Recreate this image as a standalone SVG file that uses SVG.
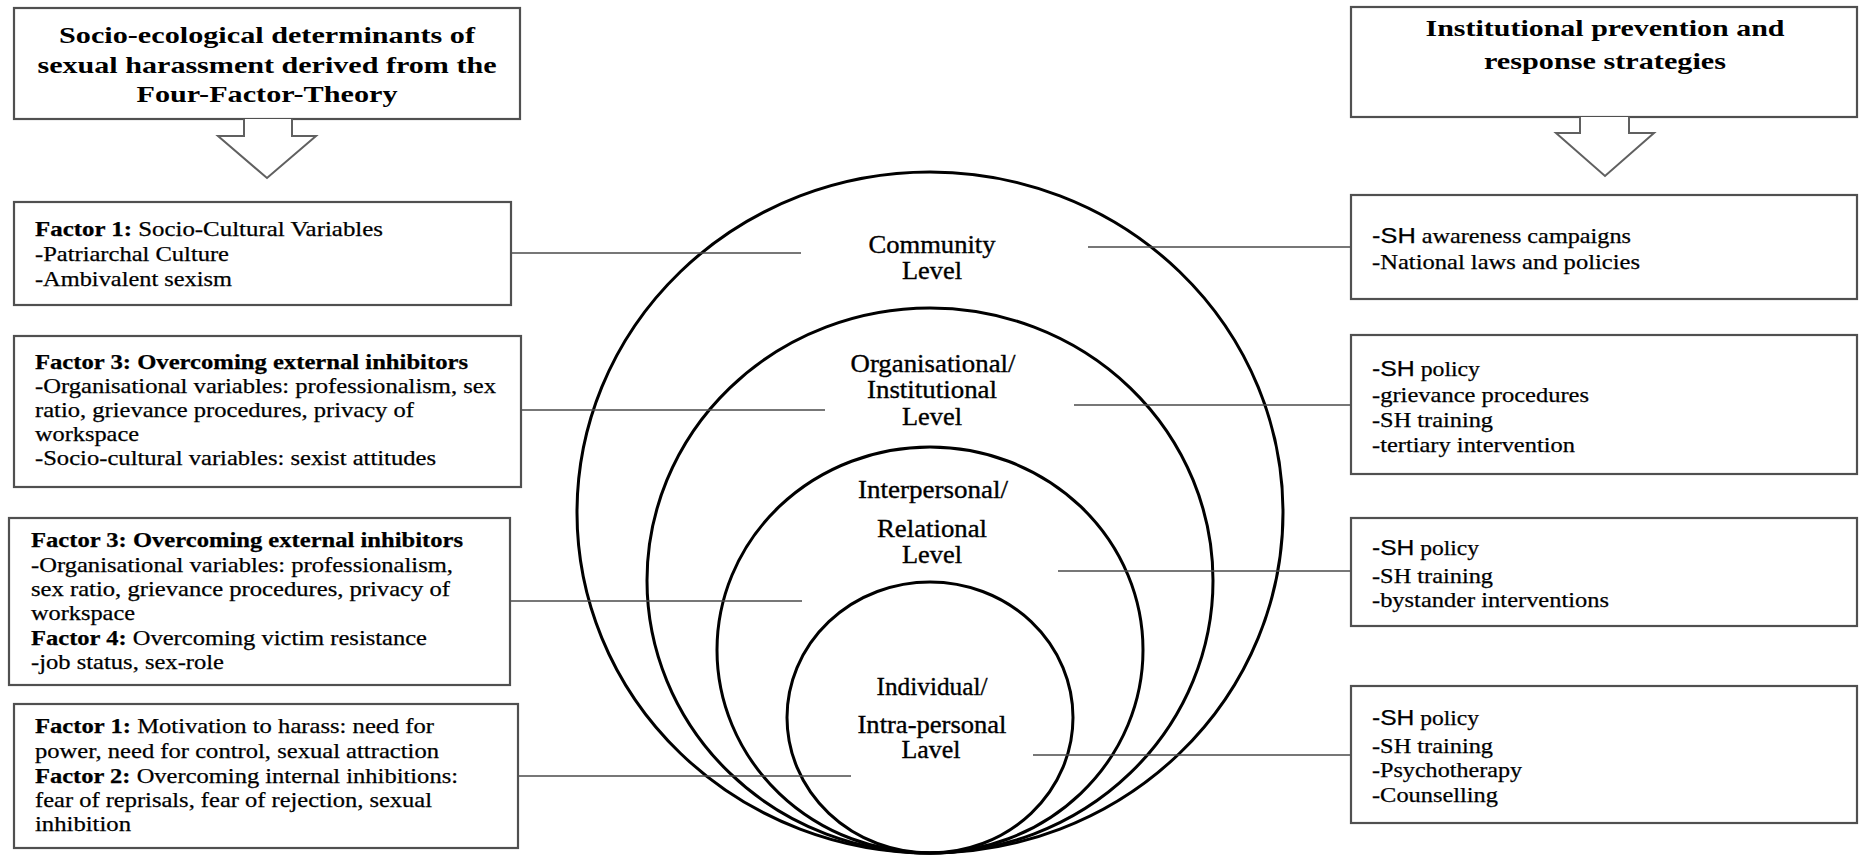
<svg xmlns="http://www.w3.org/2000/svg" width="1867" height="856" viewBox="0 0 1867 856">
  <defs>
    <style>
      .box { fill: #fff; stroke: #505050; stroke-width: 2.2; }
      .arrow { fill: #fff; stroke: #606060; stroke-width: 2; stroke-linejoin: miter; }
      .ring { fill: none; stroke: #000; stroke-width: 3; }
      .link { stroke: #4a4a4a; stroke-width: 1.6; fill: none; }
      .serif { font-family: "Liberation Serif", "Times New Roman", serif; fill: #000; }
      .head { font-size: 24px; font-weight: bold; text-anchor: middle; }
      .body { font-size: 21px; stroke: #000; stroke-width: 0.25; }
      .lvl { font-size: 25px; text-anchor: middle; stroke: #000; stroke-width: 0.35; }
      .b { font-weight: bold; }
      .sans { font-family: "Liberation Sans", Arial, sans-serif; font-size: 22px; }
    </style>
  </defs>

  <rect width="1867" height="856" fill="#fff"/>

  <!-- nested levels of the socio-ecological model -->
  <g id="levels">
    <ellipse class="ring" cx="930" cy="512.5" rx="353" ry="340.5"/>
    <ellipse class="ring" cx="930" cy="580.5" rx="283" ry="272.5"/>
    <ellipse class="ring" cx="930" cy="650" rx="213" ry="203"/>
    <ellipse class="ring" cx="930" cy="717.5" rx="143" ry="135.5"/>
  </g>

  <!-- connectors between boxes and levels -->
  <g id="connectors">
    <line class="link" x1="511" y1="253" x2="801" y2="253"/>
    <line class="link" x1="521" y1="410" x2="825" y2="410"/>
    <line class="link" x1="510" y1="601" x2="802" y2="601"/>
    <line class="link" x1="518" y1="776" x2="851" y2="776"/>
    <line class="link" x1="1088" y1="247" x2="1351" y2="247"/>
    <line class="link" x1="1074" y1="405" x2="1351" y2="405"/>
    <line class="link" x1="1058" y1="571" x2="1351" y2="571"/>
    <line class="link" x1="1033" y1="755" x2="1351" y2="755"/>
  </g>

  <g id="level-community" class="serif lvl">
    <text x="932" y="253" textLength="127" lengthAdjust="spacingAndGlyphs">Community</text>
    <text x="932" y="279" textLength="60" lengthAdjust="spacingAndGlyphs">Level</text>
  </g>
  <g id="level-organisational" class="serif lvl">
    <text x="933" y="372" textLength="165" lengthAdjust="spacingAndGlyphs">Organisational/</text>
    <text x="932" y="398" textLength="130" lengthAdjust="spacingAndGlyphs">Institutional</text>
    <text x="932" y="425" textLength="60" lengthAdjust="spacingAndGlyphs">Level</text>
  </g>
  <g id="level-interpersonal" class="serif lvl">
    <text x="933" y="498" textLength="150" lengthAdjust="spacingAndGlyphs">Interpersonal/</text>
    <text x="932" y="537" textLength="110" lengthAdjust="spacingAndGlyphs">Relational</text>
    <text x="932" y="563" textLength="60" lengthAdjust="spacingAndGlyphs">Level</text>
  </g>
  <g id="level-individual" class="serif lvl">
    <text x="932" y="695" textLength="111" lengthAdjust="spacingAndGlyphs">Individual/</text>
    <text x="932" y="733" textLength="149" lengthAdjust="spacingAndGlyphs">Intra-personal</text>
    <text x="931" y="758" textLength="59" lengthAdjust="spacingAndGlyphs">Lavel</text>
  </g>

  <!-- left heading with block arrow -->
  <g id="heading-determinants">
    <rect class="box" x="14" y="8" width="506" height="111"/>
    <text class="serif head" x="267" y="43" textLength="416" lengthAdjust="spacingAndGlyphs">Socio-ecological determinants of</text>
    <text class="serif head" x="267" y="73" textLength="459" lengthAdjust="spacingAndGlyphs">sexual harassment derived from the</text>
    <text class="serif head" x="267" y="102" textLength="261" lengthAdjust="spacingAndGlyphs">Four-Factor-Theory</text>
  </g>
  <g id="arrow-determinants">
    <path class="arrow" d="M244,119 V136 H218 L267,178 L316,136 H292 V119"/>
  </g>

  <!-- right heading with block arrow -->
  <g id="heading-strategies">
    <rect class="box" x="1351" y="7" width="506" height="110"/>
    <text class="serif head" x="1605" y="36" textLength="359" lengthAdjust="spacingAndGlyphs">Institutional prevention and</text>
    <text class="serif head" x="1605" y="69" textLength="242" lengthAdjust="spacingAndGlyphs">response strategies</text>
  </g>
  <g id="arrow-strategies">
    <path class="arrow" d="M1580,117 V133 H1556 L1605,176 L1654,133 H1629 V117"/>
  </g>

  <!-- determinant boxes -->
  <g id="factor-community">
    <rect class="box" x="14" y="202" width="497" height="103"/>
    <text class="serif body" x="35" y="236" textLength="348" lengthAdjust="spacingAndGlyphs"><tspan class="b">Factor 1:</tspan> Socio-Cultural Variables</text>
    <text class="serif body" x="35" y="261" textLength="194" lengthAdjust="spacingAndGlyphs">-Patriarchal Culture</text>
    <text class="serif body" x="35" y="286" textLength="197" lengthAdjust="spacingAndGlyphs">-Ambivalent sexism</text>
  </g>
  <g id="factor-organisational">
    <rect class="box" x="14" y="336" width="507" height="151"/>
    <text class="serif body b" x="35" y="369" textLength="433" lengthAdjust="spacingAndGlyphs">Factor 3: Overcoming external inhibitors</text>
    <text class="serif body" x="35" y="393" textLength="461" lengthAdjust="spacingAndGlyphs">-Organisational variables: professionalism, sex</text>
    <text class="serif body" x="35" y="417" textLength="379" lengthAdjust="spacingAndGlyphs">ratio, grievance procedures, privacy of</text>
    <text class="serif body" x="35" y="441" textLength="104" lengthAdjust="spacingAndGlyphs">workspace</text>
    <text class="serif body" x="35" y="465" textLength="401" lengthAdjust="spacingAndGlyphs">-Socio-cultural variables: sexist attitudes</text>
  </g>
  <g id="factor-interpersonal">
    <rect class="box" x="9" y="518" width="501" height="167"/>
    <text class="serif body b" x="31" y="547" textLength="432" lengthAdjust="spacingAndGlyphs">Factor 3: Overcoming external inhibitors</text>
    <text class="serif body" x="31" y="572" textLength="422" lengthAdjust="spacingAndGlyphs">-Organisational variables: professionalism,</text>
    <text class="serif body" x="31" y="596" textLength="419" lengthAdjust="spacingAndGlyphs">sex ratio, grievance procedures, privacy of</text>
    <text class="serif body" x="31" y="620" textLength="104" lengthAdjust="spacingAndGlyphs">workspace</text>
    <text class="serif body" x="31" y="645" textLength="396" lengthAdjust="spacingAndGlyphs"><tspan class="b">Factor 4:</tspan> Overcoming victim resistance</text>
    <text class="serif body" x="31" y="669" textLength="193" lengthAdjust="spacingAndGlyphs">-job status, sex-role</text>
  </g>
  <g id="factor-individual">
    <rect class="box" x="14" y="704" width="504" height="144"/>
    <text class="serif body" x="35" y="733" textLength="399" lengthAdjust="spacingAndGlyphs"><tspan class="b">Factor 1:</tspan> Motivation to harass: need for</text>
    <text class="serif body" x="35" y="758" textLength="404" lengthAdjust="spacingAndGlyphs">power, need for control, sexual attraction</text>
    <text class="serif body" x="35" y="783" textLength="423" lengthAdjust="spacingAndGlyphs"><tspan class="b">Factor 2:</tspan> Overcoming internal inhibitions:</text>
    <text class="serif body" x="35" y="807" textLength="397" lengthAdjust="spacingAndGlyphs">fear of reprisals, fear of rejection, sexual</text>
    <text class="serif body" x="35" y="831" textLength="96" lengthAdjust="spacingAndGlyphs">inhibition</text>
  </g>

  <!-- strategy boxes -->
  <g id="strategy-community">
    <rect class="box" x="1351" y="195" width="506" height="104"/>
    <text class="serif body" x="1372" y="243" textLength="259" lengthAdjust="spacingAndGlyphs"><tspan class="sans">-SH</tspan> awareness campaigns</text>
    <text class="serif body" x="1372" y="269" textLength="268" lengthAdjust="spacingAndGlyphs">-National laws and policies</text>
  </g>
  <g id="strategy-organisational">
    <rect class="box" x="1351" y="335" width="506" height="139"/>
    <text class="serif body" x="1372" y="376" textLength="108" lengthAdjust="spacingAndGlyphs"><tspan class="sans">-SH</tspan> policy</text>
    <text class="serif body" x="1372" y="402" textLength="217" lengthAdjust="spacingAndGlyphs">-grievance procedures</text>
    <text class="serif body" x="1372" y="427" textLength="121" lengthAdjust="spacingAndGlyphs">-SH training</text>
    <text class="serif body" x="1372" y="452" textLength="203" lengthAdjust="spacingAndGlyphs">-tertiary intervention</text>
  </g>
  <g id="strategy-interpersonal">
    <rect class="box" x="1351" y="518" width="506" height="108"/>
    <text class="serif body" x="1372" y="555" textLength="107" lengthAdjust="spacingAndGlyphs"><tspan class="sans">-SH</tspan> policy</text>
    <text class="serif body" x="1372" y="583" textLength="121" lengthAdjust="spacingAndGlyphs">-SH training</text>
    <text class="serif body" x="1372" y="607" textLength="237" lengthAdjust="spacingAndGlyphs">-bystander interventions</text>
  </g>
  <g id="strategy-individual">
    <rect class="box" x="1351" y="686" width="506" height="137"/>
    <text class="serif body" x="1372" y="725" textLength="107" lengthAdjust="spacingAndGlyphs"><tspan class="sans">-SH</tspan> policy</text>
    <text class="serif body" x="1372" y="753" textLength="121" lengthAdjust="spacingAndGlyphs">-SH training</text>
    <text class="serif body" x="1372" y="777" textLength="150" lengthAdjust="spacingAndGlyphs">-Psychotherapy</text>
    <text class="serif body" x="1372" y="802" textLength="126" lengthAdjust="spacingAndGlyphs">-Counselling</text>
  </g>
</svg>
